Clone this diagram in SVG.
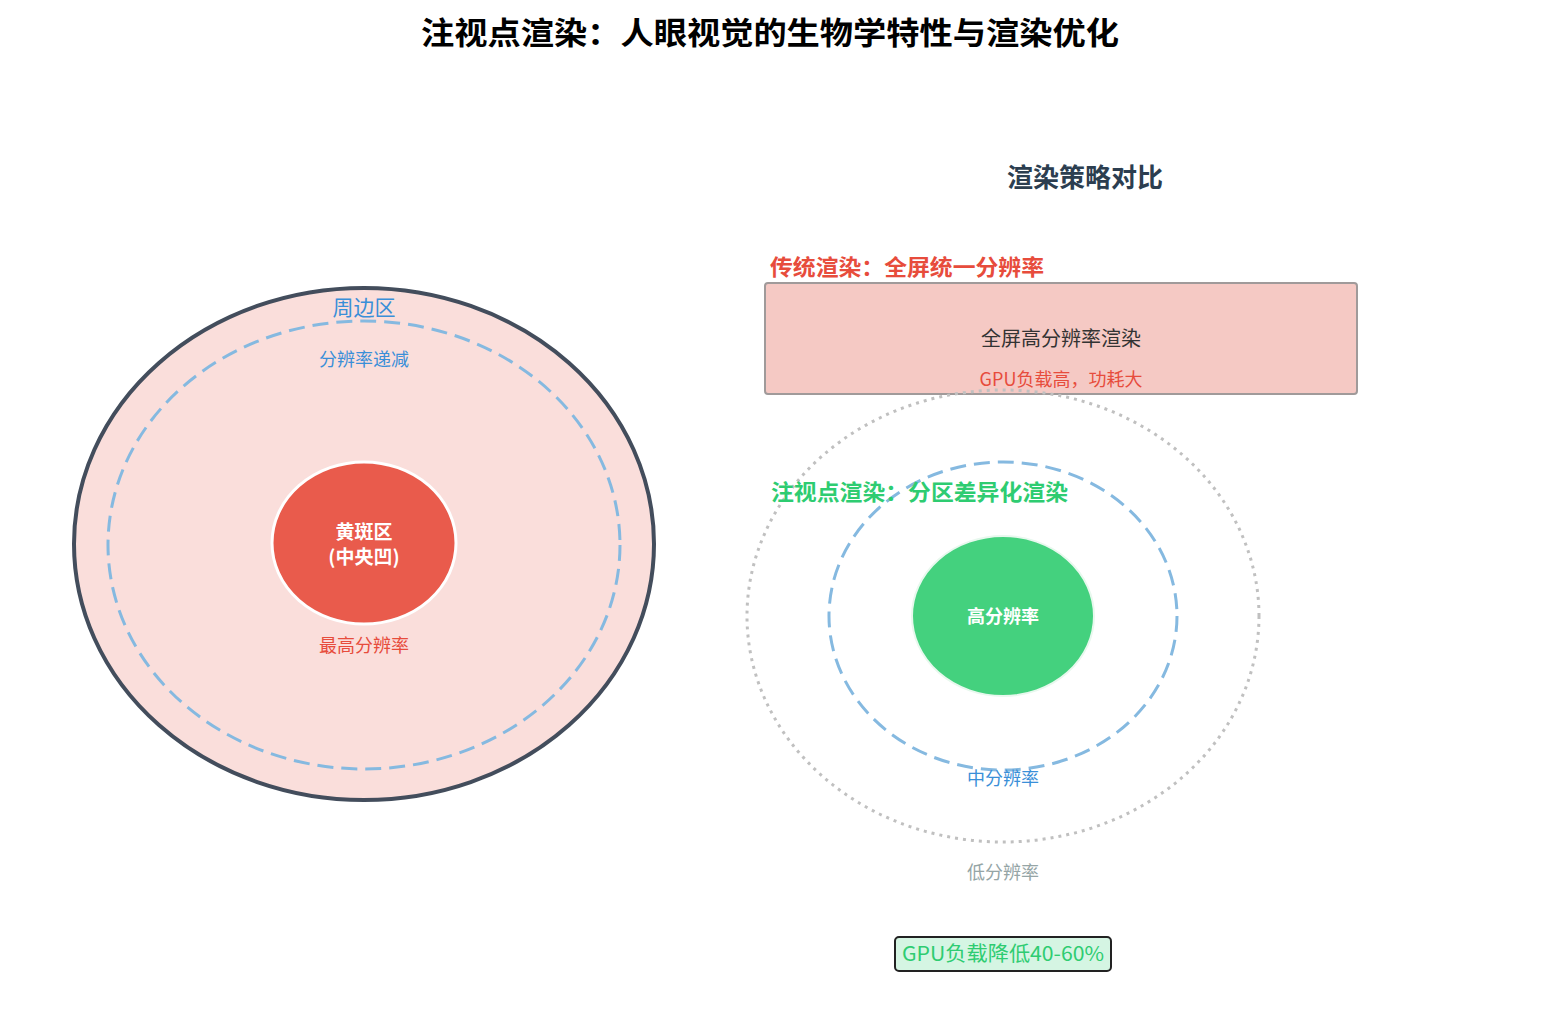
<svg xmlns="http://www.w3.org/2000/svg" width="1541" height="1021" viewBox="0 0 1541 1021">
<style>
text{font-family:"Noto Sans CJK SC","Noto Sans",sans-serif;text-anchor:middle;dominant-baseline:central}
.dash{fill:none;stroke:#85b9e0;stroke-width:3;stroke-dasharray:16 8}
.b{font-weight:bold}
</style>
<rect width="1541" height="1021" fill="#fff"/>
<text x="770" y="30" font-size="31" class="b" fill="#000" textLength="698" lengthAdjust="spacingAndGlyphs">注视点渲染：人眼视觉的生物学特性与渲染优化</text>
<g id="eye">
<ellipse cx="364" cy="544" rx="290" ry="256" fill="#fadedb" stroke="#434d5c" stroke-width="4"/>
<ellipse cx="364" cy="545" rx="256" ry="224" class="dash"/>
<text x="364" y="306" font-size="21" fill="#3a8fd8">周边区</text>
<text x="364" y="358" font-size="18" fill="#3a8fd8">分辨率递减</text>
</g>
<g id="fovea">
<ellipse cx="364" cy="543" rx="92" ry="81" fill="#e95b4c" stroke="#fff" stroke-width="3"/>
<text x="364" y="530" font-size="19" class="b" fill="#fff">黄斑区</text>
<text x="364" y="555" font-size="19" class="b" fill="#fff">(中央凹)</text>
<text x="364" y="644" font-size="18" fill="#e74c3c">最高分辨率</text>
</g>
<text x="1085" y="175" font-size="26" class="b" fill="#2c3e50">渲染策略对比</text>
<g id="traditional">
<text x="770" y="265" font-size="22" class="b" fill="#e74c3c" style="text-anchor:start" textLength="274" lengthAdjust="spacingAndGlyphs">传统渲染：全屏统一分辨率</text>
<rect x="765" y="283" width="592" height="111" rx="3" fill="#f5c9c4" stroke="#a09a9a" stroke-width="2"/>
<text x="1061" y="337" font-size="20" fill="#333">全屏高分辨率渲染</text>
<text x="1061" y="378" font-size="18" fill="#e74c3c">GPU负载高，功耗大</text>
</g>
<g id="foveated">
<ellipse cx="1003" cy="616" rx="256" ry="226" fill="none" stroke="#c0c0c0" stroke-width="3" stroke-dasharray="3 5"/>
<ellipse cx="1003" cy="616" rx="174" ry="154" class="dash"/>
<text x="771" y="490" font-size="22" class="b" fill="#2ecc71" style="text-anchor:start" textLength="297" lengthAdjust="spacingAndGlyphs">注视点渲染：分区差异化渲染</text>
<ellipse cx="1003" cy="616" rx="91" ry="80" fill="#44d17e" stroke="#e8f8ee" stroke-width="2"/>
<text x="1003" y="615" font-size="18" class="b" fill="#fff">高分辨率</text>
<text x="1003" y="777" font-size="18" fill="#3a8fd8">中分辨率</text>
<text x="1003" y="871" font-size="18" fill="#95a5a6">低分辨率</text>
</g>
<g id="gain">
<rect x="895" y="937" width="216" height="34" rx="4" fill="#d5f5e3" stroke="#222" stroke-width="2"/>
<text x="1003" y="952" font-size="20" fill="#2ecc71" textLength="202" lengthAdjust="spacingAndGlyphs">GPU负载降低40-60%</text>
</g>
<g id="connectors"/>
</svg>
